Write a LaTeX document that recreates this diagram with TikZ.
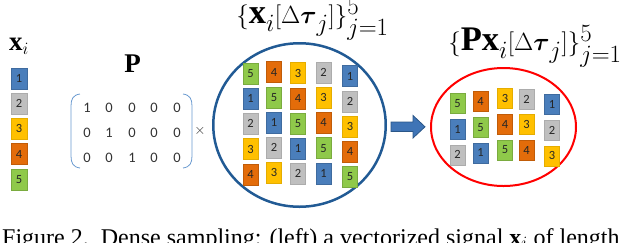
\documentclass[tikz,border=0pt]{standalone}
\usepackage{amsmath}
\usepackage{fontspec}
\setmainfont{Liberation Serif}
\newfontfamily\numfont{Carlito}
\usetikzlibrary{shapes.geometric}
\definecolor{cone}{HTML}{4A7EBB}
\definecolor{ctwo}{HTML}{BFBFBF}
\definecolor{cthree}{HTML}{FFC000}
\definecolor{cfour}{HTML}{E36C0A}
\definecolor{cfive}{HTML}{8FC94A}
\definecolor{circblue}{HTML}{215A94}
\definecolor{brblue}{HTML}{6A9AD0}
\definecolor{arrfill}{HTML}{3F74B6}
\definecolor{arrdraw}{HTML}{2A5688}
\tikzset{
  cell/.style={minimum width=15pt, minimum height=20pt, inner sep=0pt,
    font=\numfont\fontsize{12.5}{13}\selectfont, text=black!85, line width=0.4pt},
  c1/.style={cell, fill=cone, draw=cone!85!black},
  c2/.style={cell, fill=ctwo, draw=ctwo!90!black},
  c3/.style={cell, fill=cthree, draw=cthree!90!black},
  c4/.style={cell, fill=cfour, draw=cfour!85!black},
  c5/.style={cell, fill=cfive, draw=cfive!85!black},
  bigcell/.style={minimum width=16pt, minimum height=21pt},
  mathlbl/.style={inner sep=0pt, font=\fontsize{27}{30}\selectfont},
  setlbl/.style={inner sep=0pt, font=\fontsize{34.5}{36}\selectfont},
  matent/.style={inner sep=0pt, font=\numfont\fontsize{14.5}{16}\selectfont, text=black!80},
  bracket/.style={draw=brblue, line width=0.8pt},
}
\begin{document}
\begin{tikzpicture}[x=1pt,y=-1pt]
\useasboundingbox (0,0) rectangle (640,242);
% left vector
\node[mathlbl] (xlbl) at (19,46) {$\mathbf{x}_i$};
\foreach \v [count=\r] in {1,2,3,4,5}
  \node[c\v, bigcell] (l\r) at (19,{78.5+25.2*(\r-1)}) {\v};
% matrix P
\node[mathlbl] (plbl) at (132.5,64) {$\mathbf{P}$};
\foreach \row/\yy in {1/108,2/133,3/158}
  \foreach \col/\xx in {1/87,2/109,3/132,4/154,5/177}
    \node[matent] (p\row\col) at (\xx,\yy) {\ifnum\row=\col\relax 1\else 0\fi};
\draw[bracket] (80,94) .. controls (73,95) and (71,99) .. (71,106) -- (71,156)
  .. controls (71,163) and (73,167) .. (80,168);
\draw[bracket] (183,94) .. controls (190,95) and (192,99) .. (192,106) -- (192,156)
  .. controls (192,163) and (190,167) .. (183,168);
\node[matent, font=\fontsize{14}{14}\selectfont] (times) at (200,131) {$\times$};
% middle circle
\node[ellipse, draw=circblue, line width=2.5pt, minimum width=172.5pt, minimum height=163.5pt, inner sep=0pt] (mid) at (299.5,125) {};
\node[setlbl] (midlbl) at (312.5,19.5) {$\{\mathbf{x}_i[\Delta\boldsymbol{\tau}_j]\}_{j=1}^{5}$};
\foreach \cx/\cy/\vals [count=\c] in {250.5/73.5/{5,1,2,3,4}, 274/72/{4,5,1,2,3}, 298/73/{3,4,5,1,2}, 323.5/72.5/{2,3,4,5,1}, 350/76/{1,2,3,4,5}}
  \foreach \v [count=\r] in \vals
    \node[c\v, minimum height=21pt] (m\c\r) at (\cx,{\cy+25.2*(\r-1)}) {\v};
% arrow
\path[fill=arrfill, draw=arrdraw, line width=0.8pt]
  (391,122) -- (413,122) -- (413,115.5) -- (425,126.8) -- (413,138) -- (413,131.5) -- (391,131.5) -- cycle;
% right ellipse
\node[ellipse, draw=red, line width=2pt, minimum width=145pt, minimum height=118pt, inner sep=0pt] (red) at (503.5,127) {};
\node[setlbl] (redlbl) at (535,46.5) {$\{\mathbf{P}\mathbf{x}_i[\Delta\boldsymbol{\tau}_j]\}_{j=1}^{5}$};
\foreach \cx/\cy/\vals [count=\c] in {457.5/103.5/{5,1,2}, 480.5/101.5/{4,5,1}, 505/98.5/{3,4,5}, 526.5/99/{2,3,4}, 552/104.5/{1,2,3}}
  \foreach \v [count=\r] in \vals
    \node[c\v] (r\c\r) at (\cx,{\cy+25.6*(\r-1)}) {\v};
% caption
\node[anchor=base west, inner sep=0pt, font=\fontsize{24}{26}\selectfont] (cap) at (2,245)
  {Figure 2.\ \ Dense sampling: (left) a vectorized signal $\mathbf{x}_i$ of length};
\end{tikzpicture}
\end{document}
